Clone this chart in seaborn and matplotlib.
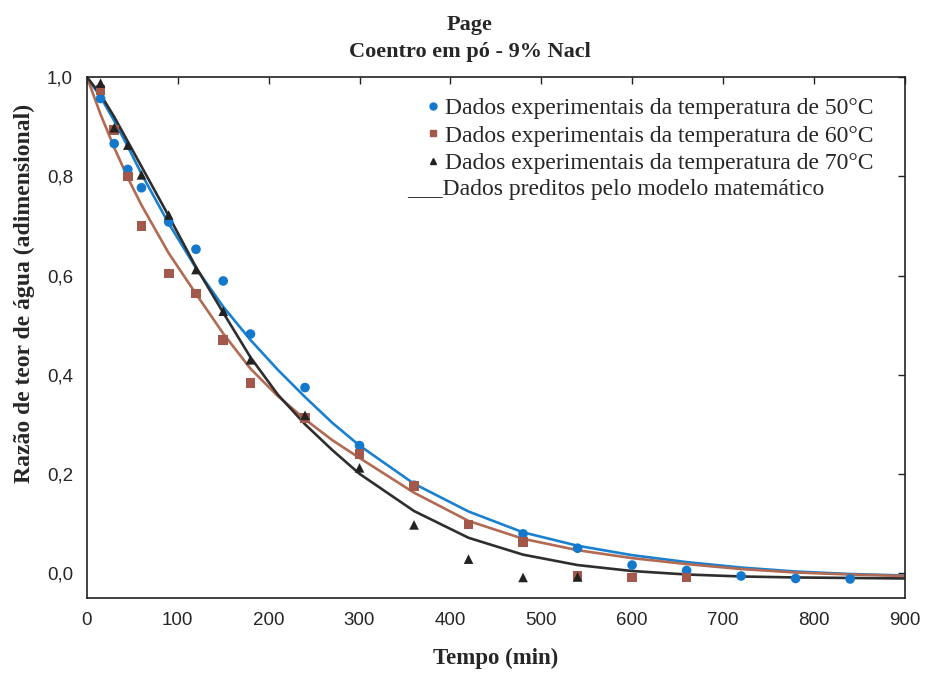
import matplotlib.pyplot as plt
import seaborn as sns
import pandas as pd
from matplotlib.lines import Line2D

# pontos experimentais
tempo_50 = [15, 30, 45, 60, 90, 120, 150, 180, 240, 300, 360, 480, 540, 600, 660, 720, 780, 840]
mr_50 = [0.957, 0.866, 0.814, 0.777, 0.708, 0.653, 0.589, 0.482, 0.374, 0.257, 0.177,
         0.079, 0.050, 0.016, 0.005, -0.006, -0.011, -0.012]

tempo_60 = [15, 30, 45, 60, 90, 120, 150, 180, 240, 300, 360, 420, 480, 540, 600, 660]
mr_60 = [0.974, 0.893, 0.800, 0.700, 0.604, 0.564, 0.470, 0.383, 0.312, 0.240, 0.175,
         0.098, 0.062, -0.006, -0.009, -0.009]

tempo_70 = [15, 30, 45, 60, 90, 120, 150, 180, 240, 300, 360, 420, 480, 540]
mr_70 = [0.988, 0.898, 0.863, 0.803, 0.722, 0.612, 0.528, 0.430, 0.318, 0.212, 0.097,
         0.028, -0.009, -0.008]

tempo_modelo = [0, 15, 30, 45, 60, 90, 120, 150, 180, 210, 240, 270, 300, 360, 420,
                480, 540, 600, 660, 720, 780, 840, 900]
pred_50 = [1.0, 0.960, 0.912, 0.860, 0.805, 0.705, 0.615, 0.537, 0.470, 0.410, 0.355,
           0.303, 0.257, 0.180, 0.124, 0.082, 0.055, 0.036, 0.022, 0.011, 0.003, -0.002, -0.005]
pred_60 = [1.0, 0.925, 0.858, 0.797, 0.742, 0.645, 0.563, 0.483, 0.412, 0.357, 0.310,
           0.268, 0.232, 0.162, 0.105, 0.069, 0.046, 0.030, 0.018, 0.008, 0.001, -0.003, -0.006]
pred_70 = [1.0, 0.965, 0.920, 0.870, 0.820, 0.720, 0.617, 0.525, 0.435, 0.360, 0.300,
           0.248, 0.200, 0.125, 0.071, 0.037, 0.016, 0.004, -0.003, -0.007, -0.009, -0.010, -0.011]

series = ['50', '60', '70']
rotulos = ['Dados experimentais da temperatura de 50°C',
           'Dados experimentais da temperatura de 60°C',
           'Dados experimentais da temperatura de 70°C']
cores_pontos = {'50': '#1478cc', '60': '#a2584a', '70': '#222222'}
cores_linhas = {'50': '#1a80d0', '60': '#b36a52', '70': '#2e2e2e'}
marcadores = {'50': 'o', '60': 's', '70': '^'}

df_pontos = pd.concat([
    pd.DataFrame({'tempo': tempo_50, 'mr': mr_50, 'serie': '50'}),
    pd.DataFrame({'tempo': tempo_60, 'mr': mr_60, 'serie': '60'}),
    pd.DataFrame({'tempo': tempo_70, 'mr': mr_70, 'serie': '70'}),
], ignore_index=True)

df_modelo = pd.concat([
    pd.DataFrame({'tempo': tempo_modelo, 'mr': pred_50, 'serie': '50'}),
    pd.DataFrame({'tempo': tempo_modelo, 'mr': pred_60, 'serie': '60'}),
    pd.DataFrame({'tempo': tempo_modelo, 'mr': pred_70, 'serie': '70'}),
], ignore_index=True)

sns.set_style('white')
plt.rcParams['font.family'] = ['Liberation Serif', 'DejaVu Serif']
fonte_ticks = ['Liberation Sans Narrow', 'Liberation Sans', 'DejaVu Sans']

fig = plt.figure(figsize=(9.25, 6.77), dpi=100)
ax = fig.add_axes([0.094, 0.117, 0.884, 0.769])

sns.lineplot(data=df_modelo, x='tempo', y='mr', hue='serie', palette=cores_linhas,
             estimator=None, sort=False, linewidth=1.9, legend=False, ax=ax)
sns.scatterplot(data=df_pontos, x='tempo', y='mr', hue='serie', style='serie',
                palette=cores_pontos, markers=marcadores, s=48, edgecolor='none',
                legend=False, ax=ax, zorder=3)

ax.set_xlim(0, 900)
ax.set_ylim(-0.05, 1.0)
ax.set_xticks(range(0, 901, 100))
ax.set_xticklabels([str(v) for v in range(0, 901, 100)], family=fonte_ticks, fontsize=13.5)
ax.set_yticks([0.0, 0.2, 0.4, 0.6, 0.8, 1.0])
ax.set_yticklabels(['0,0', '0,2', '0,4', '0,6', '0,8', '1,0'], family=fonte_ticks, fontsize=13.5)
ax.tick_params(direction='in', length=5, width=1, top=True, right=True, color='#222222')
ax.tick_params(axis='x', pad=10)
ax.tick_params(axis='y', pad=10)
for s in ax.spines.values():
    s.set_visible(True)
    s.set_color('#222222')
    s.set_linewidth(1.2)

ax.set_xlabel('Tempo (min)', fontsize=16.5, fontweight='bold', labelpad=14)
ax.set_ylabel('Razão de teor de água (adimensional)', fontsize=17, fontweight='bold')
ax.yaxis.set_label_coords(-0.063, 0.585)

fig.text(0.508, 0.963, 'Page', ha='center', va='center', fontsize=16, fontweight='bold')
fig.text(0.508, 0.923, 'Coentro em pó - 9% Nacl', ha='center', va='center', fontsize=16, fontweight='bold')

handles = [Line2D([], [], linestyle='none', marker=marcadores[k], color=cores_pontos[k],
                  markersize=5) for k in series]
ax.legend(handles, rotulos, loc='upper left', bbox_to_anchor=(0.39, 0.992), frameon=False,
          fontsize=17, handletextpad=0.05, handlelength=0.9, labelspacing=0.24, borderpad=0.2)
ax.text(0.391, 0.785, '___Dados preditos pelo modelo matemático', transform=ax.transAxes,
        fontsize=17, va='center', ha='left')

fig.savefig('out.png', dpi=100)
